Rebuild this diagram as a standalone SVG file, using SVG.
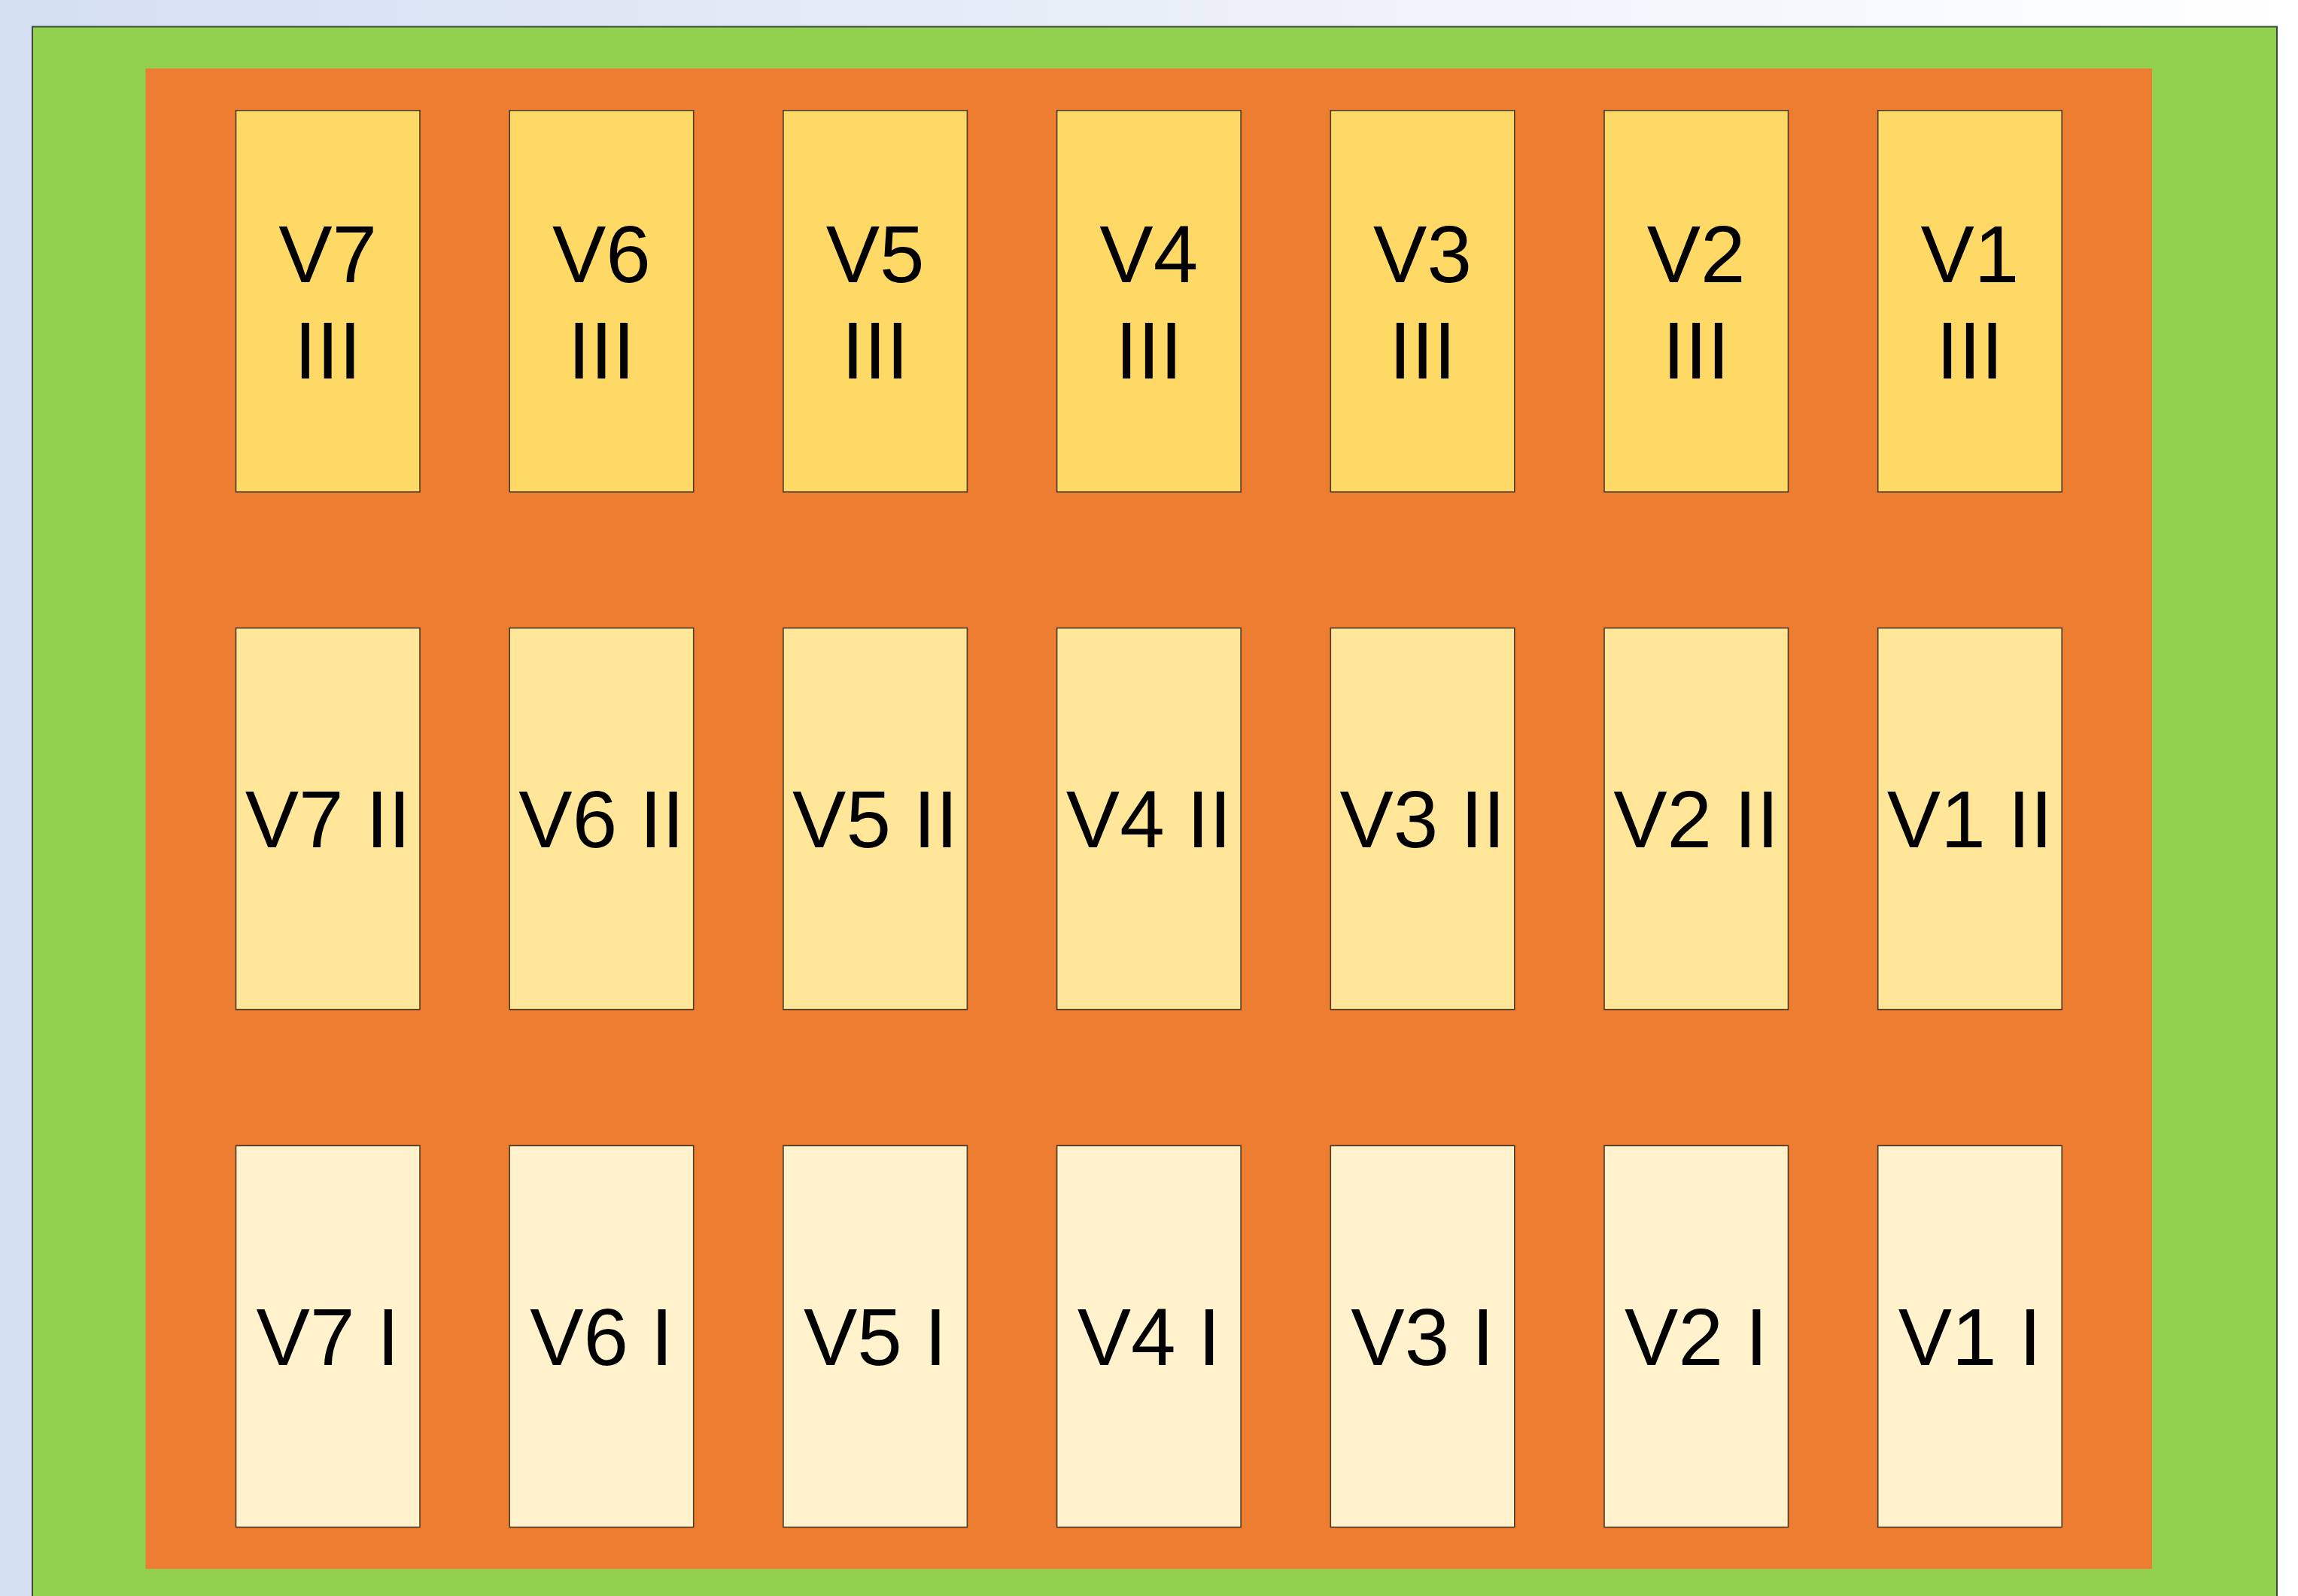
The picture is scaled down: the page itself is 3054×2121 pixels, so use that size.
<svg xmlns="http://www.w3.org/2000/svg" width="3054" height="2121" viewBox="0 0 3054 2121">
<defs>
<linearGradient id="bg" x1="0" y1="0" x2="1" y2="0">
<stop offset="0" stop-color="#D4DFF2"/>
<stop offset="1" stop-color="#FFFFFF"/>
</linearGradient>
</defs>
<style>
.box{stroke:#4a3c28;stroke-width:1.6}
.r3{fill:#FFD966}
.r2{fill:#FFE699}
.r1{fill:#FFF2CC}
text{font-family:"Liberation Sans",Arial,sans-serif;font-size:107px;fill:#000;text-anchor:middle}
</style>
<rect x="0" y="0" width="3054" height="2121" fill="url(#bg)"/>
<rect id="outer" x="43" y="35.5" width="2983" height="2100" fill="#92D050" stroke="#3c4a3c" stroke-width="2"/>
<rect id="inner" x="193.5" y="91" width="2666.5" height="1994" fill="#ED7D31"/>
<g id="row3">
<g id="V7-III"><rect class="box r3" x="313.5" y="146.8" width="244.5" height="507"/><text x="435.7" y="374.6">V7</text><text x="435.7" y="503.2">III</text></g>
<g id="V6-III"><rect class="box r3" x="677.2" y="146.8" width="244.5" height="507"/><text x="799.4" y="374.6">V6</text><text x="799.4" y="503.2">III</text></g>
<g id="V5-III"><rect class="box r3" x="1040.9" y="146.8" width="244.5" height="507"/><text x="1163.1" y="374.6">V5</text><text x="1163.1" y="503.2">III</text></g>
<g id="V4-III"><rect class="box r3" x="1404.6" y="146.8" width="244.5" height="507"/><text x="1526.8" y="374.6">V4</text><text x="1526.8" y="503.2">III</text></g>
<g id="V3-III"><rect class="box r3" x="1768.3" y="146.8" width="244.5" height="507"/><text x="1890.5" y="374.6">V3</text><text x="1890.5" y="503.2">III</text></g>
<g id="V2-III"><rect class="box r3" x="2132" y="146.8" width="244.5" height="507"/><text x="2254.2" y="374.6">V2</text><text x="2254.2" y="503.2">III</text></g>
<g id="V1-III"><rect class="box r3" x="2495.7" y="146.8" width="244.5" height="507"/><text x="2617.9" y="374.6">V1</text><text x="2617.9" y="503.2">III</text></g>
</g>
<g id="row2">
<g id="V7-II"><rect class="box r2" x="313.5" y="834.6" width="244.5" height="507"/><text x="435.7" y="1126">V7 II</text></g>
<g id="V6-II"><rect class="box r2" x="677.2" y="834.6" width="244.5" height="507"/><text x="799.4" y="1126">V6 II</text></g>
<g id="V5-II"><rect class="box r2" x="1040.9" y="834.6" width="244.5" height="507"/><text x="1163.1" y="1126">V5 II</text></g>
<g id="V4-II"><rect class="box r2" x="1404.6" y="834.6" width="244.5" height="507"/><text x="1526.8" y="1126">V4 II</text></g>
<g id="V3-II"><rect class="box r2" x="1768.3" y="834.6" width="244.5" height="507"/><text x="1890.5" y="1126">V3 II</text></g>
<g id="V2-II"><rect class="box r2" x="2132" y="834.6" width="244.5" height="507"/><text x="2254.2" y="1126">V2 II</text></g>
<g id="V1-II"><rect class="box r2" x="2495.7" y="834.6" width="244.5" height="507"/><text x="2617.9" y="1126">V1 II</text></g>
</g>
<g id="row1">
<g id="V7-I"><rect class="box r1" x="313.5" y="1522.5" width="244.5" height="507"/><text x="435.7" y="1814.3">V7 I</text></g>
<g id="V6-I"><rect class="box r1" x="677.2" y="1522.5" width="244.5" height="507"/><text x="799.4" y="1814.3">V6 I</text></g>
<g id="V5-I"><rect class="box r1" x="1040.9" y="1522.5" width="244.5" height="507"/><text x="1163.1" y="1814.3">V5 I</text></g>
<g id="V4-I"><rect class="box r1" x="1404.6" y="1522.5" width="244.5" height="507"/><text x="1526.8" y="1814.3">V4 I</text></g>
<g id="V3-I"><rect class="box r1" x="1768.3" y="1522.5" width="244.5" height="507"/><text x="1890.5" y="1814.3">V3 I</text></g>
<g id="V2-I"><rect class="box r1" x="2132" y="1522.5" width="244.5" height="507"/><text x="2254.2" y="1814.3">V2 I</text></g>
<g id="V1-I"><rect class="box r1" x="2495.7" y="1522.5" width="244.5" height="507"/><text x="2617.9" y="1814.3">V1 I</text></g>
</g>
<g id="connectors"/>
</svg>
